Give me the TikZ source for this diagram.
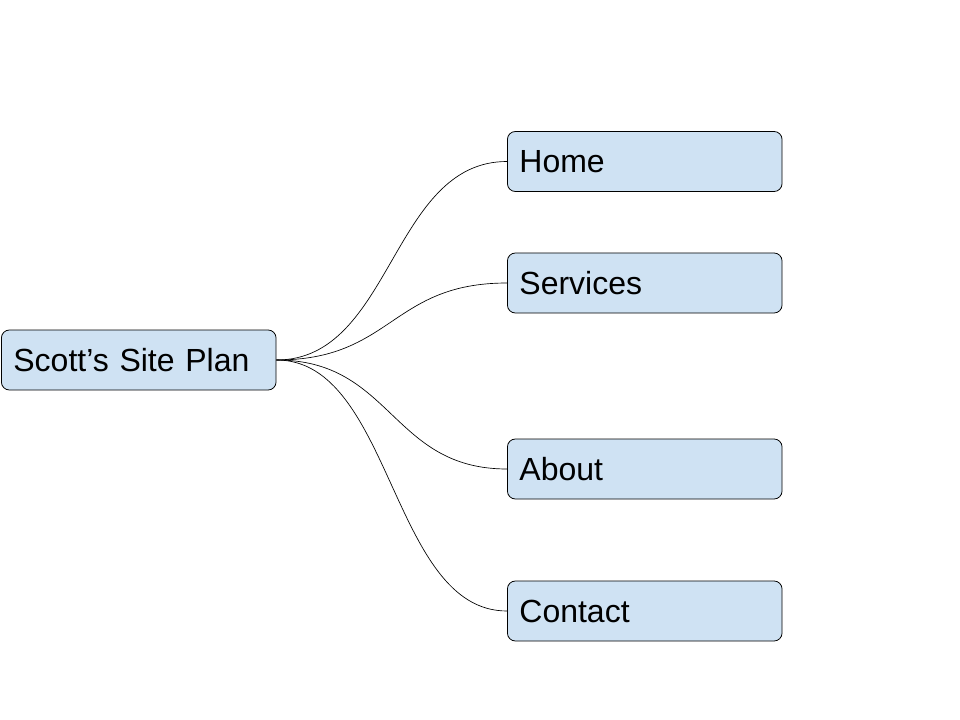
\documentclass[tikz,border=0pt]{standalone}
\usepackage{fontspec}
\setmainfont{Liberation Sans}
\usepackage{xcolor}
\usetikzlibrary{positioning}
\definecolor{pagebleu}{HTML}{CFE2F3}
\tikzset{
  page/.style={draw, fill=pagebleu, rounded corners=6pt, line width=0.6pt,
    minimum height=45pt, text width=188pt, inner xsep=9pt, align=left,
    font=\fontsize{24}{28}\selectfont},
  lien/.style={line width=0.5pt},
}

\begin{document}
\begin{tikzpicture}[x=0.75pt, y=-0.75pt]
  \useasboundingbox (0,0) rectangle (960,720);
  \node[page, anchor=west] (plan) at (1,360) {Scott’s Site Plan};

  \node[page, anchor=west] (home) at (507,161.5) {Home};
  \node[page, anchor=west] (services) at (507,283) {Services};
  \node[page, anchor=west] (about) at (507,469) {About};
  \node[page, anchor=west] (contact) at (507,611) {Contact};

  \foreach \p in {home, services, about, contact}
    \draw[lien] (plan.east) .. controls +(116,0) and +(-116,0) .. (\p.west);
\end{tikzpicture}
\end{document}
